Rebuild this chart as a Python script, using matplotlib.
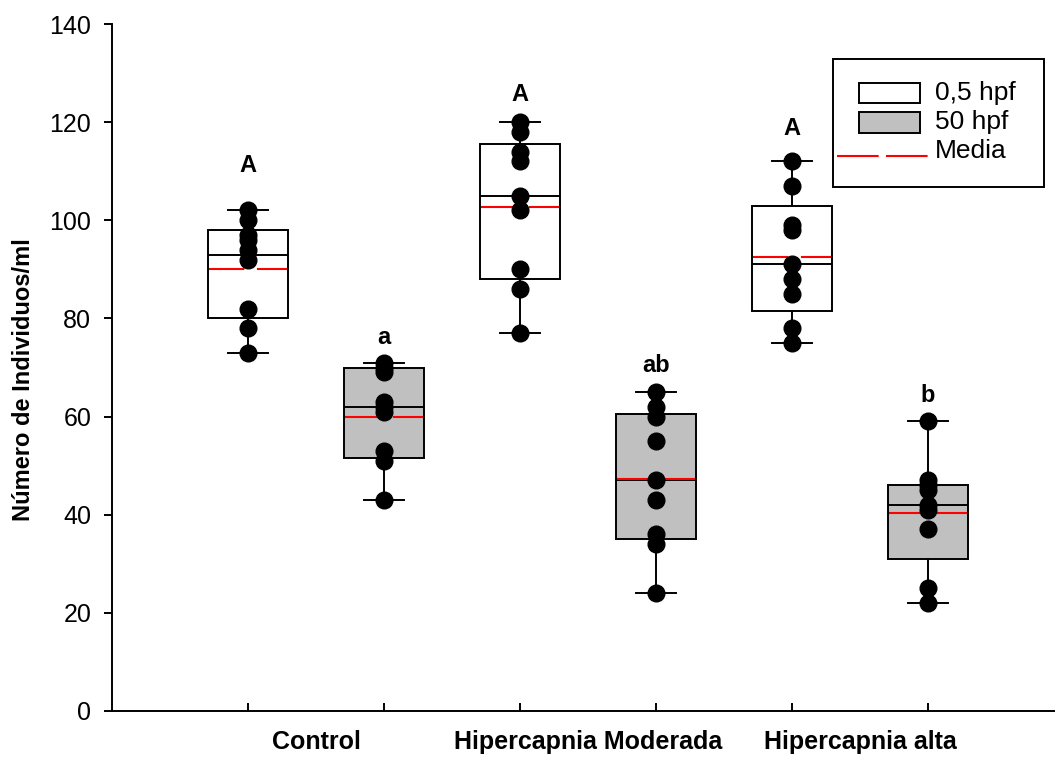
"""Box plot of individuals per ml for each treatment at 0,5 and 50 hpf."""

# Library used to create plot.
import matplotlib.pyplot as plt
from matplotlib.patches import Rectangle
from matplotlib.lines import Line2D

plt.rcParams['font.family'] = ['Liberation Sans', 'DejaVu Sans']

# Groups and series as they appear on the x axis.
groups = ["Control", "Hipercapnia Moderada", "Hipercapnia alta"]
series = ["0,5 hpf", "50 hpf"]
box_positions = [1, 2, 3, 4, 5, 6]
group_positions = [1.5, 3.5, 5.5]

# Box statistics (one entry per box, order: Control 0.5, Control 50, HM 0.5, ...).
whisker_low = [73, 43, 77, 24, 75, 22]
quartile_1 = [80, 51.5, 88, 35, 81.5, 31]
medians = [93, 62, 105, 47, 91, 42]
quartile_3 = [98, 70, 115.5, 60.5, 103, 46]
whisker_high = [102, 71, 120, 65, 112, 59]
means = [90, 60, 102.8, 47.2, 92.6, 40.4]

# Individual observations plotted over each box.
points = [
    [102, 100, 97, 96, 94, 92, 82, 78, 73],
    [71, 70, 69, 63, 62, 61, 53, 51, 43],
    [120, 118, 114, 112, 105, 102, 90, 86, 77],
    [65, 62, 60, 55, 47, 43, 36, 34, 24],
    [112, 107, 99, 98, 91, 88, 85, 78, 75],
    [59, 47, 46, 45, 42, 41, 37, 25, 22],
]

# Significance letters above each box and their baseline height.
letters = ["A", "a", "A", "ab", "A", "b"]
letter_y = [109.8, 74.8, 124.4, 69.1, 117.4, 62.9]

box_colors = ["white", "#c0c0c0", "white", "#c0c0c0", "white", "#c0c0c0"]

W, H = 1055, 757


def fig_xy(x, y):
    """Convert pixel coordinates (from top-left) to figure fraction."""
    return x / W, 1 - y / H


fig = plt.figure(figsize=(W / 100, H / 100), dpi=100)
ax = fig.add_axes([112 / W, 46 / H, (W - 112) / W, 687 / H])

stats = []
for i in range(len(box_positions)):
    stats.append({"whislo": whisker_low[i], "q1": quartile_1[i], "med": medians[i],
                  "q3": quartile_3[i], "whishi": whisker_high[i], "fliers": []})

lw = 1.4
bp = ax.bxp(stats, positions=box_positions, widths=0.59, capwidths=0.29,
            patch_artist=True, showfliers=False,
            boxprops=dict(linewidth=lw, edgecolor="black"),
            whiskerprops=dict(linewidth=lw, color="black"),
            capprops=dict(linewidth=lw, color="black"),
            medianprops=dict(linewidth=lw, color="black"))
for patch, color in zip(bp["boxes"], box_colors):
    patch.set_facecolor(color)

# Mean line in red, long dashes.
for pos, mean in zip(box_positions, means):
    ax.plot([pos - 0.285, pos + 0.285], [mean, mean], color="red", lw=1.5,
            linestyle=(0, (17, 6)), zorder=3)

# Raw observations.
for pos, values in zip(box_positions, points):
    ax.plot([pos] * len(values), values, "o", color="black", markersize=12, zorder=4)

# Letters.
for pos, letter, y in zip(box_positions, letters, letter_y):
    ax.text(pos, y, letter, ha="center", va="baseline", fontsize=17, fontweight="bold")

ax.set_xlim(0, (W - 112) / 136.0)
ax.set_ylim(0, 140)
ax.set_yticks(range(0, 141, 20))
ax.set_xticks(box_positions)
ax.set_xticklabels([])
ax.set_xticks(group_positions, minor=True)
ax.set_xticklabels(groups, minor=True, fontsize=18, fontweight="bold")
ax.tick_params(axis="x", which="major", direction="in", length=6, width=lw)
ax.tick_params(axis="x", which="minor", length=0, pad=14)
ax.tick_params(axis="y", direction="out", length=6, width=lw, labelsize=18, pad=9)

for side in ["top", "right"]:
    ax.spines[side].set_visible(False)
for side in ["left", "bottom"]:
    ax.spines[side].set_linewidth(lw)

ax.set_ylabel("Número de Individuos/ml", fontsize=17, fontweight="bold", va="center")
ax.yaxis.set_label_coords(-0.094, 0.482)

# Legend drawn by hand to follow the original layout.
x0, y0 = fig_xy(833, 187)
x1, y1 = fig_xy(1044, 59)
fig.add_artist(Rectangle((x0, y0), x1 - x0, y1 - y0, transform=fig.transFigure,
                         facecolor="white", edgecolor="black", linewidth=lw, zorder=5))
for color, yc, label in zip(box_colors[:2], [92.7, 122.5], series):
    px, py = fig_xy(859, yc + 10)
    pw = 61 / W
    ph = 20 / H
    fig.add_artist(Rectangle((px, py), pw, ph, transform=fig.transFigure,
                             facecolor=color, edgecolor="black", linewidth=lw, zorder=6))
    tx, ty = fig_xy(935, yc)
    fig.text(tx, ty, label, ha="left", va="center", fontsize=19, zorder=7)
lx0, ly = fig_xy(837, 156)
lx1, _ = fig_xy(934, 156)
fig.add_artist(Line2D([lx0, lx1], [ly, ly], transform=fig.transFigure, color="red",
                      lw=1.5, linestyle=(0, (20, 3.5)), zorder=6))
tx, ty = fig_xy(935, 151)
fig.text(tx, ty, "Media", ha="left", va="center", fontsize=19, zorder=7)

fig.savefig("out.png", dpi=100)
